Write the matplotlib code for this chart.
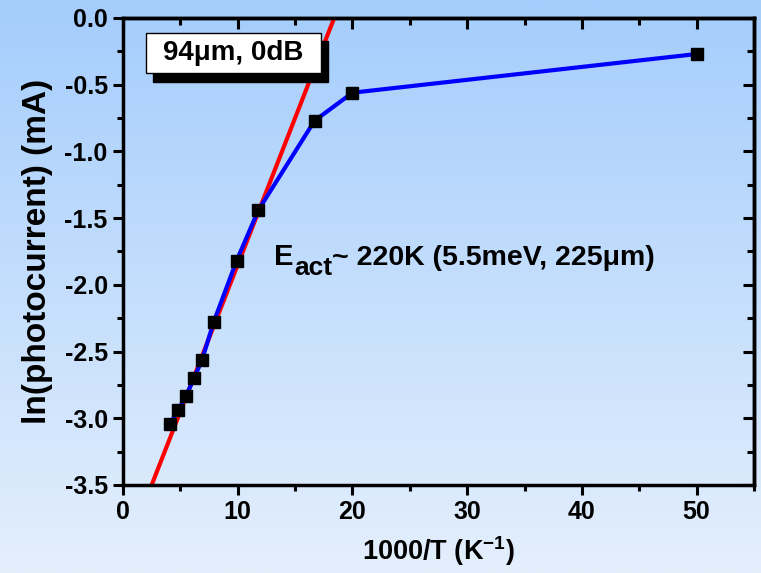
import numpy as np
import matplotlib
matplotlib.use("Agg")
import matplotlib.pyplot as plt
from matplotlib.patches import Rectangle
from matplotlib.ticker import MultipleLocator, FormatStrFormatter

# 1000/T (1/K) and ln(photocurrent) readings
inv_t = [4.1, 4.8, 5.5, 6.2, 6.9, 7.9, 9.9, 11.8, 16.7, 20.0, 50.0]
ln_i = [-3.04, -2.94, -2.83, -2.70, -2.56, -2.28, -1.82, -1.44, -0.77, -0.56, -0.27]

# Arrhenius fit, slope ~ E_act/1000 (220 K)
fit_slope = 0.22
fit_icpt = -4.05

plt.rcParams["font.family"] = ["Liberation Sans", "DejaVu Sans"]
plt.rcParams["font.weight"] = "bold"
plt.rcParams["axes.unicode_minus"] = False
plt.rcParams["mathtext.fontset"] = "custom"
plt.rcParams["mathtext.rm"] = "Liberation Sans:bold"
plt.rcParams["mathtext.it"] = "Liberation Sans:bold"
plt.rcParams["mathtext.bf"] = "Liberation Sans:bold"

fig = plt.figure(figsize=(7.61, 5.73), dpi=100)

# vertical blue gradient behind everything
bg = fig.add_axes([0, 0, 1, 1], zorder=-10)
grad = np.linspace(0, 1, 256).reshape(-1, 1)
top = np.array([164, 205, 252]) / 255
bot = np.array([228, 239, 253]) / 255
img = top + (bot - top) * grad[:, :, None]
bg.imshow(img, aspect="auto", extent=[0, 1, 0, 1])
bg.axis("off")

ax = fig.add_axes([0.1616, 0.1536, 0.8292, 0.815])
ax.patch.set_alpha(0)

xf = np.array([0, 55])
ax.plot(xf, fit_slope * xf + fit_icpt, color="#ff0000", lw=3, zorder=2)
ax.plot(inv_t, ln_i, color="#0000ff", lw=3, zorder=3)
ax.plot(inv_t, ln_i, ls="none", marker="s", ms=9, color="black", zorder=4)

ax.set_xlim(0, 55)
ax.set_ylim(-3.5, 0)
ax.xaxis.set_major_locator(MultipleLocator(10))
ax.xaxis.set_minor_locator(MultipleLocator(5))
ax.yaxis.set_major_locator(MultipleLocator(0.5))
ax.yaxis.set_minor_locator(MultipleLocator(0.25))
ax.yaxis.set_major_formatter(FormatStrFormatter("%.1f"))

for s in ax.spines.values():
    s.set_linewidth(2.5)
ax.tick_params(which="both", width=2.2, labelsize=18, pad=4)
ax.tick_params(which="major", length=7)
ax.tick_params(which="minor", length=4.5)
ax.tick_params(which="both", direction="out", top=False, right=False)

# mirrored inward ticks on top and right
axt = ax.secondary_xaxis("top")
axt.xaxis.set_major_locator(MultipleLocator(10))
axt.xaxis.set_minor_locator(MultipleLocator(5))
axt.tick_params(which="both", direction="in", width=2.2, labeltop=False)
axt.tick_params(which="major", length=8)
axt.tick_params(which="minor", length=5)
axt.spines["top"].set_linewidth(2.5)
axr = ax.secondary_yaxis("right")
axr.yaxis.set_major_locator(MultipleLocator(0.5))
axr.yaxis.set_minor_locator(MultipleLocator(0.25))
axr.tick_params(which="both", direction="in", width=2.2, labelright=False)
axr.tick_params(which="major", length=8)
axr.tick_params(which="minor", length=5)
axr.spines["right"].set_linewidth(2.5)

for lab in ax.get_xticklabels() + ax.get_yticklabels():
    lab.set_fontweight("bold")

ax.set_xlabel("1000/T (K$^{-1}$)", fontsize=19.5, fontweight="bold", labelpad=7)
ax.set_ylabel("ln(photocurrent) (mA)", fontsize=24, fontweight="bold", labelpad=8)

# label box with drop shadow
bx, by, bw, bh = 0.0364, 0.882, 0.277, 0.0857
ax.add_patch(Rectangle((bx + 0.011, by - 0.018), bw, bh, transform=ax.transAxes,
                       facecolor="black", edgecolor="black", zorder=10, clip_on=False))
ax.add_patch(Rectangle((bx, by), bw, bh, transform=ax.transAxes,
                       facecolor="white", edgecolor="black", lw=1, zorder=11, clip_on=False))
ax.text(bx + bw / 2, by + bh / 2, "94μm, 0dB", transform=ax.transAxes,
        ha="center", va="center", fontsize=20, fontweight="bold", zorder=12)

# activation energy label, with a large subscript
t_e = ax.text(13.2, -1.85, "E", fontsize=21, fontweight="bold",
              ha="left", va="baseline", zorder=12)
t_sub = ax.annotate("act", xy=(1, 0), xycoords=t_e, xytext=(0, -3),
                    textcoords="offset points", fontsize=19, fontweight="bold",
                    ha="left", va="baseline", zorder=12)
ax.annotate("~ 220K (5.5meV, 225μm)", xy=(1, 0), xycoords=(t_sub, t_e),
            fontsize=20.5, fontweight="bold", ha="left", va="bottom", zorder=12)

fig.savefig("out.png", dpi=100)
